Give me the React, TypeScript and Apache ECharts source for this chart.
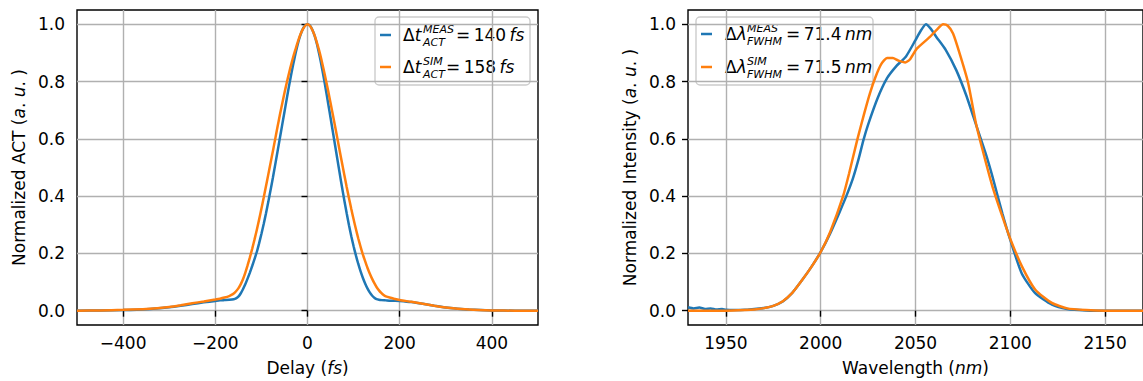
import React, { useEffect, useRef } from "react";
import * as echarts from "echarts";

// ---------- data ----------
const delayMeas = [-500, -450, -400, -350, -300, -275, -250, -225, -200, -190, -180, -170, -160, -155, -150, -145, -140, -135, -130, -125, -120, -115, -110, -105, -100, -95, -90, -85, -80, -75, -70, -65, -60, -55, -50, -45, -40, -35, -30, -25, -20, -15, -10, -5, 0, 5, 10, 15, 20, 25, 30, 35, 40, 45, 50, 55, 60, 65, 70, 75, 80, 85, 90, 95, 100, 105, 110, 115, 120, 125, 130, 135, 140, 145, 150, 155, 160, 170, 180, 190, 200, 225, 250, 275, 300, 325, 350, 400, 450, 500];
const actMeas = [0.0, 0.001, 0.002, 0.005, 0.012, 0.017, 0.023, 0.029, 0.034, 0.036, 0.037, 0.038, 0.040, 0.043, 0.049, 0.060, 0.075, 0.092, 0.112, 0.133, 0.156, 0.180, 0.205, 0.235, 0.268, 0.303, 0.340, 0.380, 0.422, 0.465, 0.510, 0.556, 0.602, 0.648, 0.694, 0.740, 0.785, 0.828, 0.868, 0.905, 0.938, 0.964, 0.984, 0.996, 1.0, 0.996, 0.983, 0.962, 0.934, 0.899, 0.860, 0.816, 0.770, 0.722, 0.674, 0.625, 0.576, 0.527, 0.478, 0.430, 0.384, 0.340, 0.298, 0.260, 0.225, 0.193, 0.164, 0.138, 0.115, 0.095, 0.078, 0.064, 0.053, 0.045, 0.040, 0.038, 0.037, 0.036, 0.035, 0.035, 0.034, 0.030, 0.024, 0.017, 0.011, 0.007, 0.004, 0.001, 0.0, 0.0];

const delaySim = [-500, -450, -400, -350, -300, -275, -250, -225, -200, -190, -180, -170, -165, -160, -155, -150, -145, -140, -135, -130, -125, -120, -115, -110, -105, -100, -95, -90, -85, -80, -75, -70, -65, -60, -55, -50, -45, -40, -35, -30, -25, -20, -15, -10, -5, 0, 5, 10, 15, 20, 25, 30, 35, 40, 45, 50, 55, 60, 65, 70, 75, 80, 85, 90, 95, 100, 105, 110, 115, 120, 125, 130, 135, 140, 145, 150, 155, 160, 165, 170, 180, 190, 200, 225, 250, 275, 300, 350, 400, 450, 500];
const actSim = [0.0, 0.001, 0.003, 0.006, 0.013, 0.019, 0.026, 0.032, 0.039, 0.042, 0.046, 0.051, 0.055, 0.060, 0.068, 0.078, 0.092, 0.110, 0.132, 0.158, 0.186, 0.216, 0.248, 0.282, 0.318, 0.356, 0.395, 0.435, 0.476, 0.517, 0.558, 0.600, 0.642, 0.683, 0.722, 0.760, 0.796, 0.830, 0.862, 0.892, 0.918, 0.944, 0.966, 0.983, 0.995, 1.0, 0.995, 0.982, 0.963, 0.938, 0.910, 0.878, 0.842, 0.805, 0.766, 0.725, 0.684, 0.642, 0.600, 0.557, 0.515, 0.473, 0.432, 0.393, 0.355, 0.319, 0.285, 0.253, 0.224, 0.197, 0.173, 0.150, 0.130, 0.112, 0.096, 0.082, 0.071, 0.062, 0.055, 0.050, 0.045, 0.041, 0.037, 0.031, 0.024, 0.017, 0.011, 0.004, 0.001, 0.0, 0.0];

const waveMeas = [1930, 1933, 1936, 1939, 1942, 1945, 1948, 1950, 1955, 1960, 1965, 1970, 1975, 1980, 1985, 1990, 1995, 2000, 2005, 2010, 2013.5, 2017, 2020, 2022.5, 2025, 2030, 2035, 2040, 2045, 2050, 2053, 2055.5, 2058, 2061, 2066, 2071.5, 2076.7, 2082, 2087, 2090.6, 2095.8, 2100, 2106, 2113, 2122, 2130, 2140, 2150, 2170];
const specMeas = [0.012, 0.008, 0.011, 0.006, 0.008, 0.004, 0.006, 0.003, 0.002, 0.003, 0.006, 0.009, 0.017, 0.032, 0.062, 0.105, 0.152, 0.205, 0.27, 0.345, 0.4, 0.462, 0.53, 0.595, 0.65, 0.742, 0.812, 0.855, 0.888, 0.945, 0.98, 1.0, 0.985, 0.956, 0.91, 0.84, 0.753, 0.648, 0.549, 0.468, 0.34, 0.247, 0.131, 0.062, 0.021, 0.006, 0.001, 0.0, 0.0];

const waveSim = [1930, 1950, 1960, 1965, 1970, 1975, 1980, 1985, 1990, 1995, 2000, 2005, 2011.8, 2015, 2019.4, 2023, 2026, 2029, 2032, 2035, 2038, 2041, 2044.6, 2047, 2050.7, 2057.6, 2061, 2064.6, 2067, 2069.8, 2073.3, 2077.6, 2081.9, 2085.4, 2090.6, 2095.8, 2100.2, 2106.2, 2113.2, 2121.9, 2130, 2140, 2150, 2170];
const specSim = [0.0, 0.0, 0.002, 0.004, 0.009, 0.017, 0.033, 0.062, 0.105, 0.152, 0.205, 0.275, 0.4, 0.48, 0.6, 0.69, 0.76, 0.818, 0.862, 0.882, 0.882, 0.873, 0.867, 0.877, 0.915, 0.956, 0.98, 1.0, 0.995, 0.968, 0.898, 0.8, 0.654, 0.561, 0.433, 0.329, 0.247, 0.154, 0.073, 0.027, 0.008, 0.002, 0.0, 0.0];

const delayTicks = [-400, -200, 0, 200, 400];
const waveTicks = [1950, 2000, 2050, 2100, 2150];
const yTicks = [0, 0.2, 0.4, 0.6, 0.8, 1.0];

const legendAct = [
  { sup: "MEAS", sub: "ACT", value: "140", unit: "fs" },
  { sup: "SIM", sub: "ACT", value: "158", unit: "fs" },
];
const legendSpec = [
  { sup: "MEAS", sub: "FWHM", value: "71.4", unit: "nm" },
  { sup: "SIM", sub: "FWHM", value: "71.5", unit: "nm" },
];

const BLUE = "#1f77b4";
const ORANGE = "#ff7f0e";
const FONT = "DejaVu Sans";
const THIN = "\u2009";

function zip(xs: number[], ys: number[]) {
  return xs.map((x, i) => [x, ys[i]]);
}

const italicRich = { it: { fontFamily: FONT, fontSize: 17, fontStyle: "italic", color: "#000" } };

function xAxisCfg(idx: number, min: number, max: number, ticks: number[], name: string) {
  return {
    type: "value",
    gridIndex: idx,
    min,
    max,
    name,
    nameLocation: "middle",
    nameGap: 34,
    nameTextStyle: { fontFamily: FONT, fontSize: 17, color: "#000", rich: italicRich },
    axisLine: { show: false },
    axisTick: { show: true, inside: false, length: 6, lineStyle: { color: "#000", width: 1.4 }, customValues: ticks },
    axisLabel: { show: true, margin: 9, fontFamily: FONT, fontSize: 17, color: "#000", customValues: ticks, formatter: (v: number) => (v < 0 ? "\u2212" + Math.abs(v) : String(v)) },
    splitLine: { show: true, lineStyle: { color: "#b0b0b0", width: 1.4 } },
  };
}

function yAxisCfg(idx: number, name: string) {
  return {
    type: "value",
    gridIndex: idx,
    min: -0.05,
    max: 1.05,
    name,
    nameLocation: "middle",
    nameGap: 50,
    nameTextStyle: { fontFamily: FONT, fontSize: 17, color: "#000", rich: italicRich },
    axisLine: { show: false },
    axisTick: { show: true, inside: false, length: 6, lineStyle: { color: "#000", width: 1.4 }, customValues: yTicks },
    axisLabel: { show: true, margin: 12, fontFamily: FONT, fontSize: 17, color: "#000", customValues: yTicks, formatter: (v: number) => v.toFixed(1) },
    splitLine: { show: true, lineStyle: { color: "#b0b0b0", width: 1.4 } },
  };
}

function legendGraphic(
  box: { x: number; y: number; w: number; h: number },
  lineX: number,
  textX: number,
  sym: string,
  scriptX: number,
  eqX: number[],
  rows: { sup: string; sub: string; value: string; unit: string }[],
  colors: string[],
  rowY: number[]
) {
  const children: any[] = [
    {
      type: "rect",
      shape: { x: box.x, y: box.y, width: box.w, height: box.h, r: 4 },
      style: { fill: "rgba(255,255,255,0.8)", stroke: "#cccccc", lineWidth: 1.4 },
    },
  ];
  rows.forEach((r, i) => {
    const y = rowY[i];
    children.push({
      type: "line",
      shape: { x1: lineX, y1: y, x2: lineX + 11, y2: y },
      style: { stroke: colors[i], lineWidth: 2.5 },
    });
    children.push({
      type: "text",
      x: textX,
      y,
      style: {
        text: "\u0394{it|" + sym + "}",
        fontFamily: FONT,
        fontSize: 17,
        fill: "#000",
        verticalAlign: "middle",
        rich: { it: { fontFamily: FONT, fontSize: 17, fontStyle: "italic", fill: "#000" } },
      },
    });
    children.push({
      type: "text",
      x: scriptX,
      y: y - 5.5,
      style: { text: r.sup, fontFamily: FONT, fontSize: 11, fontStyle: "italic", fill: "#000", verticalAlign: "middle" },
    });
    children.push({
      type: "text",
      x: scriptX,
      y: y + 7,
      style: { text: r.sub, fontFamily: FONT, fontSize: 11, fontStyle: "italic", fill: "#000", verticalAlign: "middle" },
    });
    children.push({
      type: "text",
      x: eqX[i],
      y,
      style: {
        text: "=" + THIN + r.value + THIN + "{it|" + r.unit + "}",
        fontFamily: FONT,
        fontSize: 17,
        fill: "#000",
        verticalAlign: "middle",
        rich: { it: { fontFamily: FONT, fontSize: 17, fontStyle: "italic", fill: "#000" } },
      },
    });
  });
  return { type: "group", z: 100, children };
}

export default function App() {
  const ref = useRef<HTMLDivElement>(null);
  useEffect(() => {
    if (!ref.current) return;
    const chart = echarts.init(ref.current, undefined, { renderer: "svg" });
    const lineSeries = (data: number[][], color: string, idx: number, name: string) => ({
      type: "line",
      name,
      xAxisIndex: idx,
      yAxisIndex: idx,
      data,
      showSymbol: false,
      smooth: 0.2,
      lineStyle: { color, width: 2.5 },
      itemStyle: { color },
      clip: true,
    });
    chart.setOption({
      animation: false,
      backgroundColor: "#ffffff",
      grid: [
        { left: 77, right: 605, top: 10, bottom: 55, show: true, borderColor: "#000", borderWidth: 1.4, backgroundColor: "transparent" },
        { left: 688, right: -6, top: 10, bottom: 55, show: true, borderColor: "#000", borderWidth: 1.4, backgroundColor: "transparent" },
      ],
      xAxis: [
        xAxisCfg(0, -500, 500, delayTicks, "Delay ({it|fs})"),
        xAxisCfg(1, 1930, 2170, waveTicks, "Wavelength ({it|nm})"),
      ],
      yAxis: [
        yAxisCfg(0, "Normalized ACT ({it|a}. {it|u}. )"),
        yAxisCfg(1, "Normalized Intensity ({it|a}. {it|u}. )"),
      ],
      series: [
        lineSeries(zip(delayMeas, actMeas), BLUE, 0, "MEAS ACT"),
        lineSeries(zip(delaySim, actSim), ORANGE, 0, "SIM ACT"),
        lineSeries(zip(waveMeas, specMeas), BLUE, 1, "MEAS spectrum"),
        lineSeries(zip(waveSim, specSim), ORANGE, 1, "SIM spectrum"),
      ],
      graphic: [
        legendGraphic({ x: 375, y: 17, w: 155, h: 68 }, 380, 403, "t", 423, [456, 446], legendAct, [BLUE, ORANGE], [35, 67]),
        legendGraphic({ x: 696, y: 17, w: 177, h: 68 }, 701, 725, "\u03bb", 747, [786, 786], legendSpec, [BLUE, ORANGE], [34, 67]),
      ],
    });
    return () => chart.dispose();
  }, []);
  return (
    <div
      ref={ref}
      style={{ position: "fixed", left: 0, top: 0, width: 1143, height: 381, background: "#fff" }}
    />
  );
}
